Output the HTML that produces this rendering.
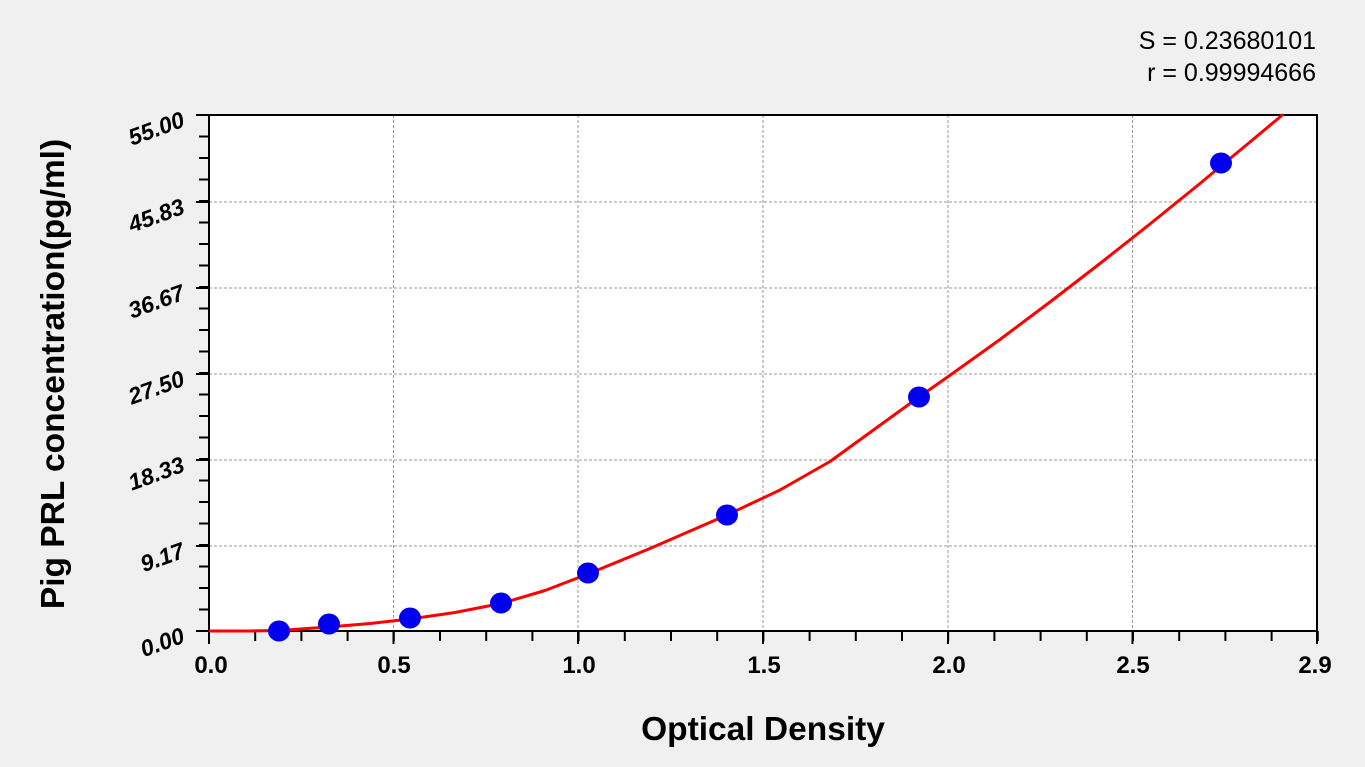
<!DOCTYPE html>
<html><head><style>body{margin:0;background:#f0f0f0}svg{display:block}text{font-family:"Liberation Sans",sans-serif}</style></head>
<body>
<svg width="1365" height="767" viewBox="0 0 1365 767">
<rect width="1365" height="767" fill="#f0f0f0"/>
<rect x="209" y="115" width="1108" height="516" fill="#fff"/>
<g stroke="#999" stroke-dasharray="3,2" stroke-width="1">
<line x1="393.5" y1="115" x2="393.5" y2="631"/><line x1="578" y1="115" x2="578" y2="631"/><line x1="763" y1="115" x2="763" y2="631"/><line x1="948" y1="115" x2="948" y2="631"/><line x1="1132.5" y1="115" x2="1132.5" y2="631"/>
<line x1="209" y1="202" x2="1317" y2="202"/><line x1="209" y1="288" x2="1317" y2="288"/><line x1="209" y1="374" x2="1317" y2="374"/><line x1="209" y1="460" x2="1317" y2="460"/><line x1="209" y1="546" x2="1317" y2="546"/>
</g>
<rect x="209" y="115" width="1108" height="516" fill="none" stroke="#000" stroke-width="2"/>
<line x1="208" y1="636" x2="1320" y2="636" stroke="#000" stroke-width="10" stroke-dasharray="2,44.2"/>
<line x1="204" y1="632" x2="204" y2="112" stroke="#000" stroke-width="10" stroke-dasharray="2,19.5"/>
<g stroke="#000" stroke-width="2">
<line x1="209" y1="631" x2="209" y2="644"/><line x1="393.5" y1="631" x2="393.5" y2="644"/><line x1="578" y1="631" x2="578" y2="644"/><line x1="763" y1="631" x2="763" y2="644"/><line x1="948" y1="631" x2="948" y2="644"/><line x1="1132.5" y1="631" x2="1132.5" y2="644"/><line x1="1317" y1="631" x2="1317" y2="644"/>
<line x1="196" y1="631" x2="209" y2="631"/><line x1="196" y1="546" x2="209" y2="546"/><line x1="196" y1="460" x2="209" y2="460"/><line x1="196" y1="374" x2="209" y2="374"/><line x1="196" y1="288" x2="209" y2="288"/><line x1="196" y1="202" x2="209" y2="202"/><line x1="196" y1="115" x2="209" y2="115"/>
</g>
<polyline fill="none" stroke="#f00" stroke-width="3" stroke-linejoin="round" points="209,631 250,631 279,630.5 329,627 370,623.5 410,619 455,612.5 501,603.5 545,590.5 588,574 650,548.5 727,515 780,490 830,461.5 870,432.5 919,397 949,376 1000,339.5 1050,302 1100,263.5 1150,224 1200,183.5 1221,166 1250,142 1283,114.5"/>
<g fill="#0000ee">
<ellipse cx="279" cy="631" rx="11" ry="10.5"/><ellipse cx="329" cy="624" rx="11" ry="10.5"/><ellipse cx="410" cy="618" rx="11" ry="10.5"/><ellipse cx="501" cy="603" rx="11" ry="10.5"/><ellipse cx="588" cy="573" rx="11" ry="10.5"/><ellipse cx="727" cy="515" rx="11" ry="10.5"/><ellipse cx="919" cy="397" rx="11" ry="10.5"/><ellipse cx="1221" cy="163" rx="11" ry="10.5"/>
</g>
<g font-size="24" font-weight="bold" text-anchor="middle">
<text x="211" y="673">0.0</text><text x="394" y="673">0.5</text><text x="579" y="673">1.0</text><text x="764" y="673">1.5</text><text x="949" y="673">2.0</text><text x="1133" y="673">2.5</text><text x="1315" y="673">2.9</text>
</g>
<g font-size="23" font-weight="bold" font-style="italic" text-anchor="end">
<text transform="translate(186,642) rotate(-20)">0.00</text>
<text transform="translate(186,557) rotate(-20)">9.17</text>
<text transform="translate(186,471) rotate(-20)">18.33</text>
<text transform="translate(186,385) rotate(-20)">27.50</text>
<text transform="translate(186,299) rotate(-20)">36.67</text>
<text transform="translate(186,213) rotate(-20)">45.83</text>
<text transform="translate(186,126) rotate(-20)">55.00</text>
</g>
<text x="763" y="740" font-size="33.5" font-weight="bold" text-anchor="middle">Optical Density</text>
<text transform="translate(64,374) rotate(-90)" font-size="33.5" font-weight="bold" text-anchor="middle">Pig PRL concentration(pg/ml)</text>
<text x="1316" y="49" font-size="25" text-anchor="end">S = 0.23680101</text>
<text x="1316" y="81" font-size="25" text-anchor="end">r = 0.99994666</text>
</svg>
</body></html>
